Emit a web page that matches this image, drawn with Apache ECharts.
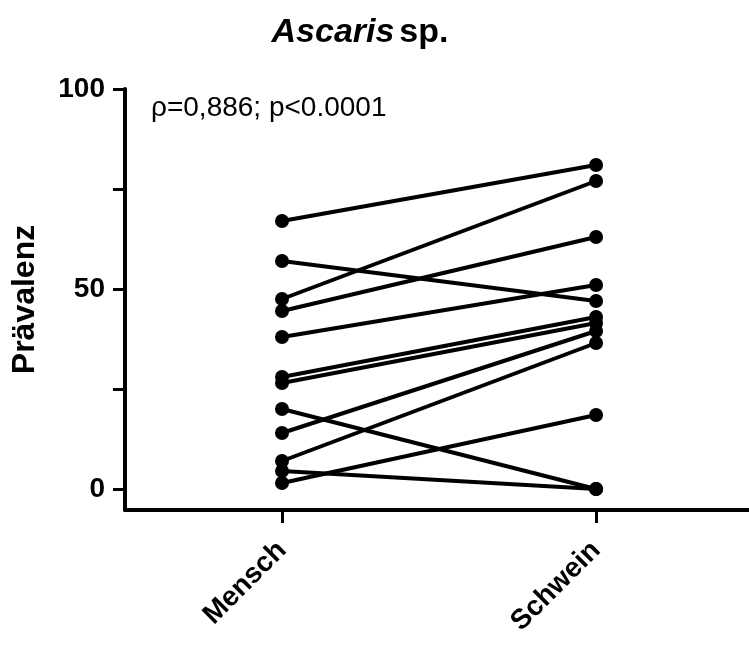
<!DOCTYPE html>
<html>
<head>
<meta charset="utf-8">
<script src="https://cdn.jsdelivr.net/npm/echarts@6/dist/echarts.min.js"></script>
<style>html,body{margin:0;padding:0;background:#fff}#c{width:749px;height:646px}</style>
</head>
<body>
<div id="c"></div>
<script>
var categories = ['Mensch', 'Schwein'];
var mensch  = [67, 57, 47.5, 44.5, 38, 28, 26.5, 20, 14, 7, 4.5, 1.5];
var schwein = [81, 47, 77, 63, 51, 43, 41.5, 0, 39.5, 36.5, 0, 18.5];
var yTicks = [0, 25, 50, 75, 100];
var yLabels = [0, 50, 100];

var FONT = 'Liberation Sans, Arial, sans-serif';
var series = mensch.map(function (m, i) {
  return {
    type: 'line',
    data: [[0, m], [1, schwein[i]]],
    symbol: 'circle',
    symbolSize: 14,
    itemStyle: { color: '#000' },
    lineStyle: { color: '#000', width: 4 },
    clip: false,
    silent: true,
    animation: false
  };
});

var chart = echarts.init(document.getElementById('c'));
chart.setOption({
  backgroundColor: '#fff',
  animation: false,
  title: {
    text: '{i|Ascaris} {b|sp.}',
    left: 355,
    textAlign: 'center',
    top: 11,
    textStyle: {
      rich: {
        i: { fontFamily: FONT, fontSize: 34, fontWeight: 'bold', fontStyle: 'italic', color: '#000' },
        b: { fontFamily: FONT, fontSize: 34, fontWeight: 'bold', color: '#000' }
      }
    }
  },
  graphic: [{
    type: 'text',
    left: 151,
    top: 94,
    style: { text: 'ρ=0,886; p<0.0001', font: '28px ' + FONT, fill: '#000' }
  }],
  grid: { left: 125, right: 0, top: 89, bottom: 136 },
  xAxis: {
    type: 'value',
    min: -0.5,
    max: 1.487,
    splitLine: { show: false },
    axisLine: { show: true, onZero: false, lineStyle: { color: '#000', width: 4 } },
    axisTick: { show: true, customValues: [0, 1], length: 13, lineStyle: { color: '#000', width: 3 } },
    axisLabel: {
      customValues: [0, 1],
      rotate: 45,
      margin: 36,
      formatter: function (v) { return categories[Math.round(v)]; },
      fontFamily: FONT, fontSize: 28, fontWeight: 'bold', color: '#000'
    }
  },
  yAxis: {
    type: 'value',
    min: -5.25,
    max: 100,
    name: 'Prävalenz',
    nameLocation: 'middle',
    nameGap: 84,
    nameTextStyle: { fontFamily: FONT, fontSize: 32, fontWeight: 'bold', color: '#000' },
    splitLine: { show: false },
    axisLine: { show: true, onZero: false, lineStyle: { color: '#000', width: 4 } },
    axisTick: { show: true, customValues: yTicks, length: 12, lineStyle: { color: '#000', width: 3 } },
    axisLabel: {
      customValues: yLabels,
      margin: 20,
      fontFamily: FONT, fontSize: 28, fontWeight: 'bold', color: '#000'
    }
  },
  series: series
});
</script>
</body>
</html>
